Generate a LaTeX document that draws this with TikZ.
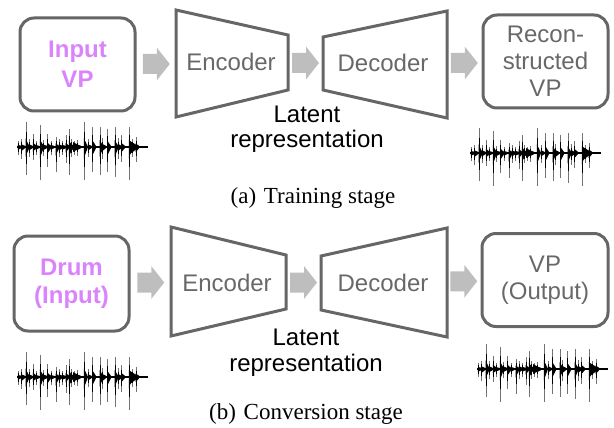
\documentclass[tikz,border=0pt]{standalone}
\usepackage{fontspec}
\setmainfont{Liberation Serif}
\setsansfont{Liberation Sans}
\usetikzlibrary{calc}

\definecolor{vpurple}{RGB}{218,132,252}
\definecolor{edgegray}{RGB}{102,102,102}
\definecolor{labelgray}{RGB}{104,104,104}
\definecolor{arrowgray}{RGB}{190,190,190}

\tikzset{
  box/.style={draw=edgegray, line width=3pt, rounded corners=14pt,
    align=center, inner sep=0pt, font=\sffamily\fontsize{24}{28}\selectfont},
  coder/.style={draw=edgegray, line width=3pt, line join=miter},
  lbl/.style={anchor=base, inner sep=0pt, text=labelgray,
    font=\sffamily\fontsize{24}{28}\selectfont},
  latent/.style={align=center, inner sep=0pt, anchor=base,
    font=\sffamily\fontsize{24}{26}\selectfont},
  caption/.style={anchor=base, inner sep=0pt, font=\fontsize{23}{26}\selectfont},
  pics/flow/.style={code={
    \fill[arrowgray] (-13.5,-10) -- (0.5,-10) -- (0.5,-16.5) -- (13.5,0)
      -- (0.5,16.5) -- (0.5,10) -- (-13.5,10) -- cycle;}},
  pics/wave/.style={code={
    \fill (0,-1) rectangle (131,1);
    \foreach \x/\u/\d in {1.3/6/8, 4.7/8/12, 9/25/28, 12.3/8/10, 16.3/13/13,
        19/6/8, 23.3/22/33, 26.7/7/9, 30.7/13/20, 34/6/8, 39/10/25,
        42.3/8/10, 45.7/6/8, 49/12/16, 52.3/18/28, 54.7/8/10, 57.3/6/8,
        60.7/7/9, 67.3/25/33, 71.3/8/10, 75.7/20/25, 83/20/28, 85.7/9/12,
        90.7/18/25, 98/20/30, 101.3/9/12, 104.7/12/15, 112.3/20/33,
        115.7/8/10, 119/10/15}{
      \fill[black!55] (\x-0.4,-\u) rectangle (\x+0.4,\d);
      \fill (\x-0.4,-0.6*\u) rectangle (\x+0.4,0.6*\d);
      \fill (\x-0.5,-0.35*\u) -- (\x+3.2,-1.2) -- (\x+3.2,1.2)
        -- (\x-0.5,0.35*\d) -- cycle;
    }
    \fill (113,-6) .. controls (117,-4) .. (121,-1) -- (121,1)
      .. controls (117,4) .. (113,7) -- cycle;
    \fill (56,-5) .. controls (60,-3) .. (63,-1) -- (63,1)
      .. controls (60,3) .. (56,5) -- cycle;}}
}

\begin{document}
\begin{tikzpicture}[x=1pt, y=-1pt]
\useasboundingbox (0,0) rectangle (614,428);

% ---------------- training stage ----------------
\node[box, minimum width=115, minimum height=93, text=vpurple,
  font=\sffamily\bfseries\fontsize{24}{30}\selectfont]
  (inA) at (77.5,64.5) {Input\\VP};

\draw[coder] (176,10) -- (288,35) -- (288,90) -- (176,117) -- cycle;
\coordinate (encAw) at (176,63.5);
\coordinate (encAe) at (288,62.5);
\node[lbl] (encA) at (231,71) {Encoder};

\draw[coder] (323,37) -- (447,11) -- (447,118) -- (323,90) -- cycle;
\coordinate (decAw) at (323,63.5);
\coordinate (decAe) at (447,64.5);
\node[lbl] (decA) at (383,72) {Decoder};

\node[box, minimum width=125, minimum height=93, text=labelgray,
  font=\sffamily\fontsize{24}{27}\selectfont]
  (outA) at (545.5,61.5) {Recon-\\structed\\VP};

\pic at ($(inA.east)!0.5!(encAw)$) {flow};
\pic at ($(encAe)!0.5!(decAw)$) {flow};
\pic at ($(decAe)!0.5!(outA.west)$) {flow};

% the base anchor of a two-line node sits on its last line
\node[latent] (latA) at (307,148) {Latent\\representation};

\pic at (17,147) {wave};
\pic at (470,153) {wave};

\node[caption] (capA) at (313,203) {(a)\hspace{2pt} Training stage};

% ---------------- conversion stage ----------------
\node[box, minimum width=115, minimum height=95, text=vpurple,
  font=\sffamily\bfseries\fontsize{24}{28}\selectfont]
  (inB) at (71.5,283.5) {Drum\\(Input)};

\draw[coder] (171,227) -- (286,255) -- (286,309) -- (171,336) -- cycle;
\coordinate (encBw) at (171,281.5);
\coordinate (encBe) at (286,282);
\node[lbl] (encB) at (227,291) {Encoder};

\draw[coder] (321,256) -- (447,228) -- (447,337) -- (321,310) -- cycle;
\coordinate (decBw) at (321,283);
\coordinate (decBe) at (447,282.5);
\node[lbl] (decB) at (383,291) {Decoder};

\node[box, minimum width=126, minimum height=93, text=labelgray,
  font=\sffamily\fontsize{24}{27}\selectfont]
  (outB) at (545,280) {VP\\(Output)};

\pic at ($(inB.east)!0.5!(encBw)$) {flow};
\pic at ($(encBe)!0.5!(decBw)$) {flow};
\pic at ($(decBe)!0.5!(outB.west)$) {flow};

\node[latent] (latB) at (306,371) {Latent\\representation};

\pic at (17,377) {wave};
\pic at (477,369) {wave};

\node[caption] (capB) at (306,419) {(b)\hspace{2pt} Conversion stage};
\end{tikzpicture}
\end{document}
